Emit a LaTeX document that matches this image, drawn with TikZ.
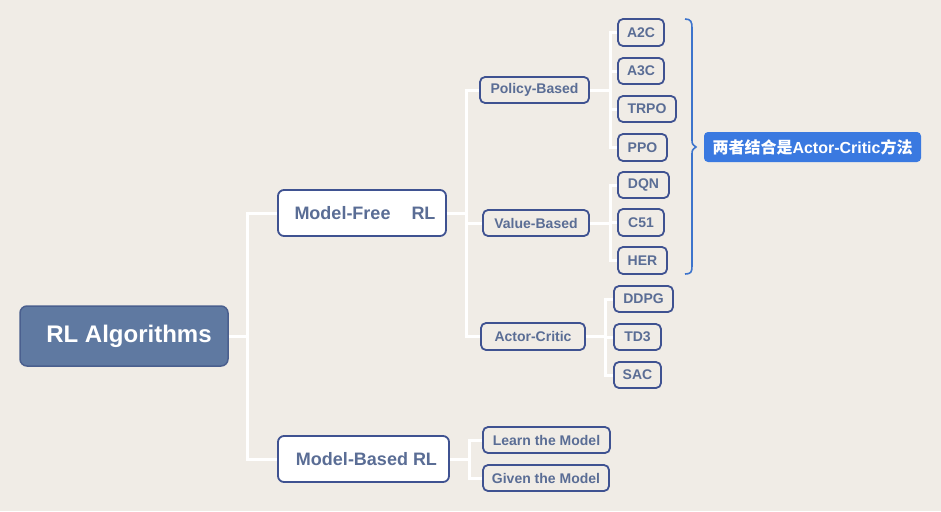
\documentclass[tikz,border=0pt]{standalone}
\usepackage{fontspec}
\setmainfont{Liberation Sans}
\newfontfamily\cjk{Noto Sans CJK SC}
\definecolor{bg}{HTML}{F0ECE6}
\definecolor{rootfill}{HTML}{5F79A1}
\definecolor{rootdraw}{HTML}{4A5F8E}
\definecolor{boxdraw}{HTML}{3F5291}
\definecolor{boxtext}{HTML}{5A6D95}
\definecolor{bracecol}{HTML}{3D74CC}
\definecolor{notefill}{HTML}{3A79E0}
\begin{document}
\begin{tikzpicture}[x=1pt,y=-1pt,
  base/.style={rounded corners=5pt, inner sep=0pt, align=center, font=\bfseries},
  rootbox/.style={base, rounded corners=7pt, fill=rootfill, draw=rootdraw, line width=1.5pt, text=white, font=\fontsize{24}{28}\selectfont\bfseries},
  mainbox/.style={base, rounded corners=6pt, fill=white, draw=boxdraw, line width=1.8pt, text=boxtext, font=\fontsize{18}{22}\selectfont\bfseries},
  subbox/.style={base, draw=boxdraw, line width=1.8pt, text=boxtext, font=\fontsize{14}{17}\selectfont\bfseries},
  link/.style={draw=white, line width=3pt},
  notebox/.style={base, rounded corners=4pt, fill=notefill, text=white, font=\fontsize{16}{19}\selectfont\bfseries}
]
\fill[bg] (0,0) rectangle (941,511);
\useasboundingbox (0,0) rectangle (941,511);

% junction coordinates
\coordinate (j0) at (247,336);
\coordinate (j1) at (466,213);
\coordinate (jp) at (610,90);
\coordinate (jv) at (610,223);
\coordinate (ja) at (605,336.5);
\coordinate (jm) at (469,459);

% nodes
\node[rootbox, minimum width=208pt, minimum height=60pt] (root) at (124,336) {\hspace{10pt}RL Algorithms};
\node[mainbox, minimum width=168pt, minimum height=46pt] (mf) at (362,213) {\hspace{6pt}Model-Free\hspace{21pt}RL};
\node[mainbox, minimum width=171pt, minimum height=46pt] (mb) at (363.5,459) {\hspace{6pt}Model-Based RL};

\node[subbox, minimum width=109pt, minimum height=26pt] (pb) at (534.5,90) {Policy-Based};
\node[subbox, minimum width=106pt, minimum height=26pt] (vb) at (536,223) {Value-Based};
\node[subbox, minimum width=104pt, minimum height=27pt] (ac) at (533,336.5) {Actor-Critic};

\node[subbox, minimum width=46pt, minimum height=27pt] (a2c) at (641,32.5) {A2C};
\node[subbox, minimum width=46pt, minimum height=26pt] (a3c) at (641,71) {A3C};
\node[subbox, minimum width=58pt, minimum height=26pt] (trpo) at (647,109) {TRPO};
\node[subbox, minimum width=49pt, minimum height=27pt] (ppo) at (642.5,147.5) {PPO};
\node[subbox, minimum width=51pt, minimum height=26pt] (dqn) at (643.5,185) {DQN};
\node[subbox, minimum width=46pt, minimum height=27pt] (c51) at (641,222.5) {C51};
\node[subbox, minimum width=49pt, minimum height=27pt] (her) at (642.5,260.5) {HER};
\node[subbox, minimum width=59pt, minimum height=26pt] (ddpg) at (643.5,299) {DDPG};
\node[subbox, minimum width=47pt, minimum height=26pt] (td3) at (637.5,337) {TD3};
\node[subbox, minimum width=47pt, minimum height=26pt] (sac) at (637.5,375) {SAC};
\node[subbox, minimum width=127pt, minimum height=26pt] (learn) at (546.5,440) {Learn the Model};
\node[subbox, minimum width=126pt, minimum height=26pt] (given) at (546,478) {Given the Model};

\node[notebox, minimum width=217pt, minimum height=30pt] (note) at (812.5,147) {{\cjk 两者结合是}Actor-Critic{\cjk 方法}};

% connectors
\draw[link] (root.east) -- (j0);
\draw[link] (j0) |- (mf.west);
\draw[link] (j0) |- (mb.west);

\draw[link] (mf.east) -- (j1);
\draw[link] (j1) |- (pb.west);
\draw[link] (j1) |- (vb.west);
\draw[link] (j1) |- (ac.west);

\draw[link] (pb.east) -- (jp);
\foreach \n in {a2c,a3c,trpo,ppo} \draw[link] (jp) |- (\n.west);
\draw[link] (vb.east) -- (jv);
\foreach \n in {dqn,c51,her} \draw[link] (jv) |- (\n.west);
\draw[link] (ac.east) -- (ja);
\foreach \n in {ddpg,td3,sac} \draw[link] (ja) |- (\n.west);
\draw[link] (mb.east) -- (jm);
\foreach \n in {learn,given} \draw[link] (jm) |- (\n.west);

% brace
\coordinate (bt) at (685,19);
\coordinate (bb) at (685,274);
\draw[bracecol, line width=1.6pt] (bt) .. controls (691,19) and (692,22) .. (692,28)
  -- (692,139) .. controls (692,144) .. (696,147)
  .. controls (692,150) .. (692,155)
  -- (692,266) .. controls (692,272) and (691,274) .. (bb);
\end{tikzpicture}
\end{document}
